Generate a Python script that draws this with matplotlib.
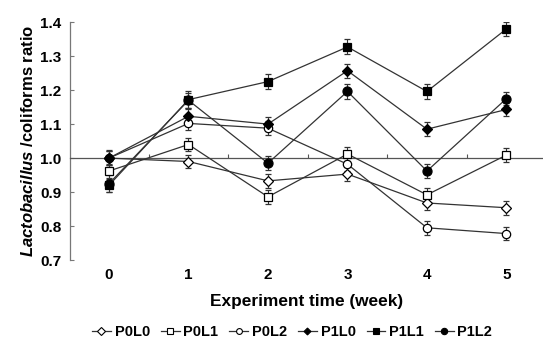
import numpy as np
import matplotlib.pyplot as plt
from matplotlib.lines import Line2D

plt.rcParams['font.family'] = ['Liberation Sans', 'DejaVu Sans']
plt.rcParams['mathtext.fontset'] = 'custom'
plt.rcParams['mathtext.it'] = 'Liberation Sans:italic:bold'

# data
weeks = [0, 1, 2, 3, 4, 5]
labels = ["P0L0", "P0L1", "P0L2", "P1L0", "P1L1", "P1L2"]

p0l0 = [1.00, 0.99, 0.933, 0.953, 0.868, 0.854]
p0l1 = [0.962, 1.04, 0.886, 1.012, 0.892, 1.009]
p0l2 = [1.00, 1.102, 1.088, 0.982, 0.795, 0.778]
p1l0 = [1.00, 1.123, 1.10, 1.257, 1.085, 1.143]
p1l1 = [0.92, 1.172, 1.225, 1.327, 1.196, 1.38]
p1l2 = [0.925, 1.17, 0.985, 1.196, 0.962, 1.175]

p0l0_err = [0.02, 0.02, 0.02, 0.02, 0.02, 0.02]
p0l1_err = [0.02, 0.02, 0.02, 0.02, 0.02, 0.02]
p0l2_err = [0.02, 0.02, 0.02, 0.02, 0.02, 0.02]
p1l0_err = [0.025, 0.02, 0.02, 0.02, 0.02, 0.02]
p1l1_err = [0.02, 0.025, 0.022, 0.022, 0.022, 0.02]
p1l2_err = [0.025, 0.022, 0.02, 0.022, 0.02, 0.02]

series = [p0l0, p0l1, p0l2, p1l0, p1l1, p1l2]
errors = [p0l0_err, p0l1_err, p0l2_err, p1l0_err, p1l1_err, p1l2_err]
markers = ["D", "s", "o", "D", "s", "o"]
faces = ["white", "white", "white", "black", "black", "black"]
sizes = [5.5, 6, 6, 5, 6, 6.5]

fig = plt.figure(figsize=(5.43, 3.40), dpi=100)
ax = fig.add_axes([0.129, 0.235, 0.871, 0.70])

handles = []
for y, e, m, fc, ms, lab in zip(series, errors, markers, faces, sizes, labels):
    ax.errorbar(weeks, y, yerr=e, marker=m, markersize=ms, markerfacecolor=fc,
                markeredgecolor="black", markeredgewidth=0.9, color="#333333",
                linewidth=0.9, ecolor="#333333", elinewidth=0.8, capsize=2,
                capthick=0.8, zorder=3)
    handles.append(Line2D([], [], marker=m, markersize=ms * 0.7, markerfacecolor=fc,
                          markeredgecolor="black", markeredgewidth=0.8,
                          color="#333333", linewidth=0.9, label=lab))

ax.set_xlim(-0.49, 5.46)
ax.set_ylim(0.7, 1.4)
ax.set_yticks(np.arange(0.7, 1.41, 0.1))
ax.set_yticklabels([f"{v:.1f}" for v in np.arange(0.7, 1.41, 0.1)],
                   fontweight="bold", fontsize=11)

# bottom spine sits at ratio 1.0 with small ticks between weeks
ax.spines['top'].set_visible(False)
ax.spines['right'].set_visible(False)
ax.spines['bottom'].set_position(('data', 1.0))
ax.spines['bottom'].set_color("#555555")
ax.spines['left'].set_color("#777777")
ax.spines['bottom'].set_linewidth(0.9)
ax.spines['left'].set_linewidth(0.9)
ax.set_xticks([0.5, 1.5, 2.5, 3.5, 4.5])
ax.tick_params(axis='x', direction='in', length=3, color="#555555", labelbottom=False)
ax.tick_params(axis='y', direction='in', length=3, color="#777777", pad=6)

sec = ax.secondary_xaxis(0)
sec.set_xticks(weeks)
sec.set_xticklabels([str(w) for w in weeks], fontweight="bold", fontsize=11)
sec.tick_params(length=0, pad=6)
sec.spines['bottom'].set_visible(False)
sec.set_xlabel("Experiment time (week)", fontweight="bold", fontsize=12.4, labelpad=8)

ax.set_ylabel(r"$Lactobacillus$ /coliforms ratio", fontweight="bold",
              fontsize=12, labelpad=3)

fig.legend(handles=handles, loc="center", bbox_to_anchor=(0.538, 0.024), ncol=6,
           frameon=False, prop={'weight': 'bold', 'size': 10.5},
           handlelength=1.3, handletextpad=0.25, columnspacing=0.75)

fig.savefig("out.png", dpi=100)
